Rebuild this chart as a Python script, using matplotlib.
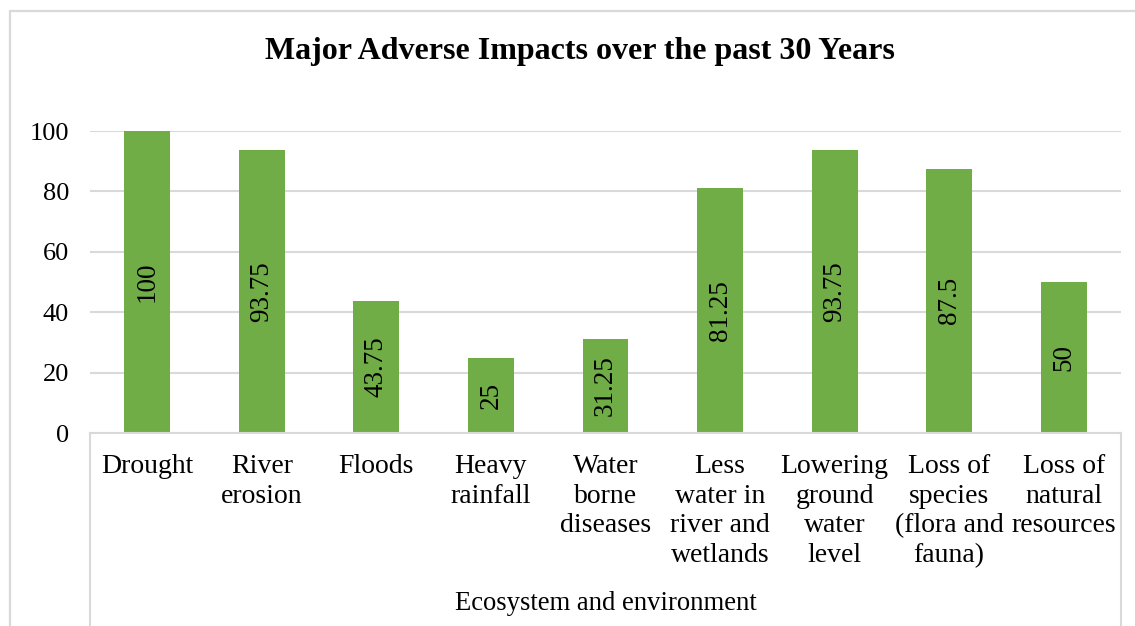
import matplotlib.pyplot as plt
from matplotlib.patches import Rectangle
from matplotlib.lines import Line2D
import matplotlib.transforms as mtransforms

plt.rcParams['font.family'] = ['Liberation Serif', 'DejaVu Serif']

# impacts and share of respondents (%)
categories = ['Drought', 'River\nerosion', 'Floods', 'Heavy\nrainfall',
              'Water\nborne\ndiseases', 'Less\nwater in\nriver and\nwetlands',
              'Lowering\nground\nwater\nlevel', 'Loss of\nspecies\n(flora and\nfauna)',
              'Loss of\nnatural\nresources']
values = [100, 93.75, 43.75, 25, 31.25, 81.25, 93.75, 87.5, 50]
value_labels = ['100', '93.75', '43.75', '25', '31.25', '81.25', '93.75', '87.5', '50']
group_label = 'Ecosystem and environment'
title = 'Major Adverse Impacts over the past 30 Years'
yticks = [0, 20, 40, 60, 80, 100]

W, H = 1135, 626
fig = plt.figure(figsize=(W / 100, H / 100), dpi=100)
fig.patch.set_facecolor('white')

# chart frame (runs off the right and bottom edges)
fig.patches.append(Rectangle((10 / W, -0.05), 1.2, 1 - 11 / H + 0.05,
                             transform=fig.transFigure, fill=False,
                             edgecolor='#D9D9D9', linewidth=1.6))

ax = fig.add_axes([90 / W, 1 - 433 / H, (1121 - 90) / W, (433 - 131) / H])
x = range(len(categories))
ax.bar(x, values, width=0.4, color='#70AD47', zorder=3)
for xi, v, lab in zip(x, values, value_labels):
    ax.text(xi, v / 2, lab, rotation=90, ha='center', va='center',
            fontsize=19.5, color='black', zorder=4)

ax.set_xlim(-0.5, len(categories) - 0.5)
ax.set_ylim(0, 100)
ax.set_yticks(yticks)
ax.tick_params(axis='y', length=0, labelsize=19, pad=15)
ax.set_xticks(list(x))
ax.set_xticklabels(categories, fontsize=20, linespacing=1.25, va='top')
ax.tick_params(axis='x', length=0, pad=15)
ax.grid(axis='y', color='#D9D9D9', linewidth=1.5, zorder=0)
for s in ax.spines.values():
    s.set_visible(False)

# multi-level category axis: separators and group label
trans = mtransforms.blended_transform_factory(ax.transAxes, fig.transFigure)
for xa in (0, 1):
    fig.add_artist(Line2D([xa, xa], [0, 1 - 433 / H], transform=trans,
                          color='#D9D9D9', linewidth=1.5))
fig.add_artist(Line2D([0, 1], [1 - 433 / H, 1 - 433 / H], transform=trans,
                      color='#D9D9D9', linewidth=1.5))
fig.text(606 / W, 1 - 603 / H, group_label, ha='center', va='center', fontsize=19.2)

fig.text(580 / W, 1 - 51 / H, title, ha='center', va='center',
         fontsize=23, fontweight='bold')

fig.savefig('out.png', dpi=100)
